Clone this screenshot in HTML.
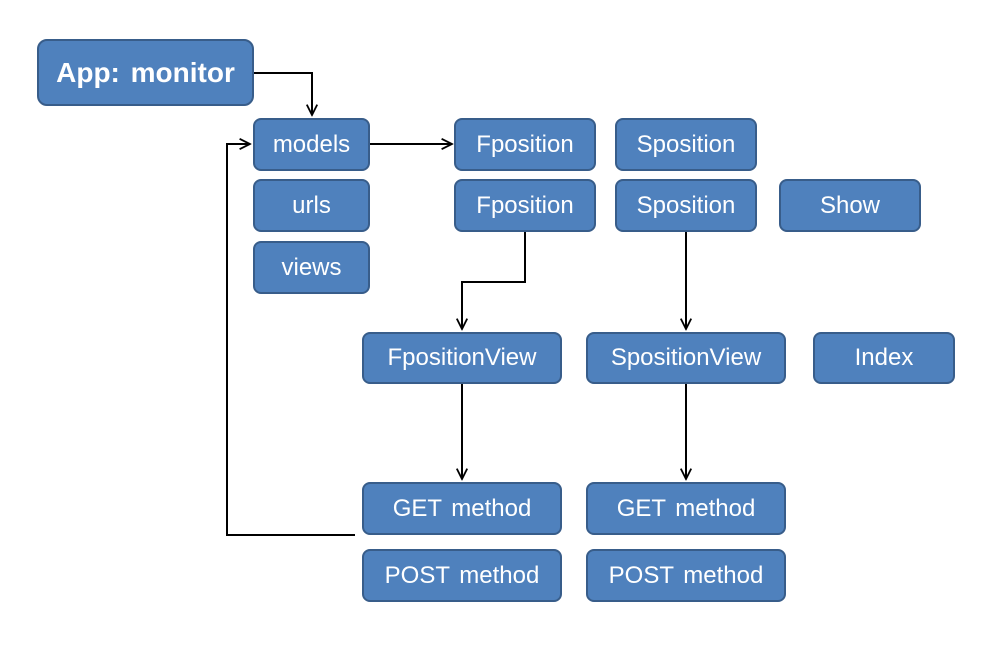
<!DOCTYPE html>
<html><head><style>
body{margin:0;width:1002px;height:654px;background:#fff;overflow:hidden;position:relative;font-family:"Liberation Sans","Noto Sans CJK KR",sans-serif}
.b{position:absolute;box-sizing:border-box;background:#4f81bd;border:2.5px solid #385d8a;border-radius:8px;color:#fff;display:flex;align-items:center;justify-content:center;font-size:24px;white-space:nowrap;word-spacing:3px}
svg{position:absolute;left:0;top:0}
</style></head><body>
<svg width="1002" height="654" fill="none" stroke="#000" stroke-width="2">
<defs><marker id="a" viewBox="0 0 10 10" refX="9" refY="5" markerWidth="13" markerHeight="13" orient="auto" markerUnits="userSpaceOnUse"><path d="M1 1L9 5L1 9" stroke="#000" stroke-width="1.4" fill="none"/></marker></defs>
<path d="M254 73H312V115" marker-end="url(#a)"/>
<path d="M370 144H452" marker-end="url(#a)"/>
<path d="M525 232V282H462V329" marker-end="url(#a)"/>
<path d="M686 232V329" marker-end="url(#a)"/>
<path d="M462 384V479" marker-end="url(#a)"/>
<path d="M686 384V479" marker-end="url(#a)"/>
<path d="M355 535H227V144H250" marker-end="url(#a)"/>
</svg>
<div class="b" style="left:37px;top:39px;width:217px;height:67px;font-size:28px;font-weight:bold;border-radius:10px">App: monitor</div>
<div class="b" style="left:253px;top:118px;width:117px;height:53px">models</div>
<div class="b" style="left:253px;top:179px;width:117px;height:53px">urls</div>
<div class="b" style="left:253px;top:241px;width:117px;height:53px">views</div>
<div class="b" style="left:454px;top:118px;width:142px;height:53px">Fposition</div>
<div class="b" style="left:454px;top:179px;width:142px;height:53px">Fposition</div>
<div class="b" style="left:615px;top:118px;width:142px;height:53px">Sposition</div>
<div class="b" style="left:615px;top:179px;width:142px;height:53px">Sposition</div>
<div class="b" style="left:779px;top:179px;width:142px;height:53px">Show</div>
<div class="b" style="left:362px;top:332px;width:200px;height:52px">FpositionView</div>
<div class="b" style="left:586px;top:332px;width:200px;height:52px">SpositionView</div>
<div class="b" style="left:813px;top:332px;width:142px;height:52px">Index</div>
<div class="b" style="left:362px;top:482px;width:200px;height:53px">GET method</div>
<div class="b" style="left:362px;top:549px;width:200px;height:53px">POST method</div>
<div class="b" style="left:586px;top:482px;width:200px;height:53px">GET method</div>
<div class="b" style="left:586px;top:549px;width:200px;height:53px">POST method</div>
</body></html>
